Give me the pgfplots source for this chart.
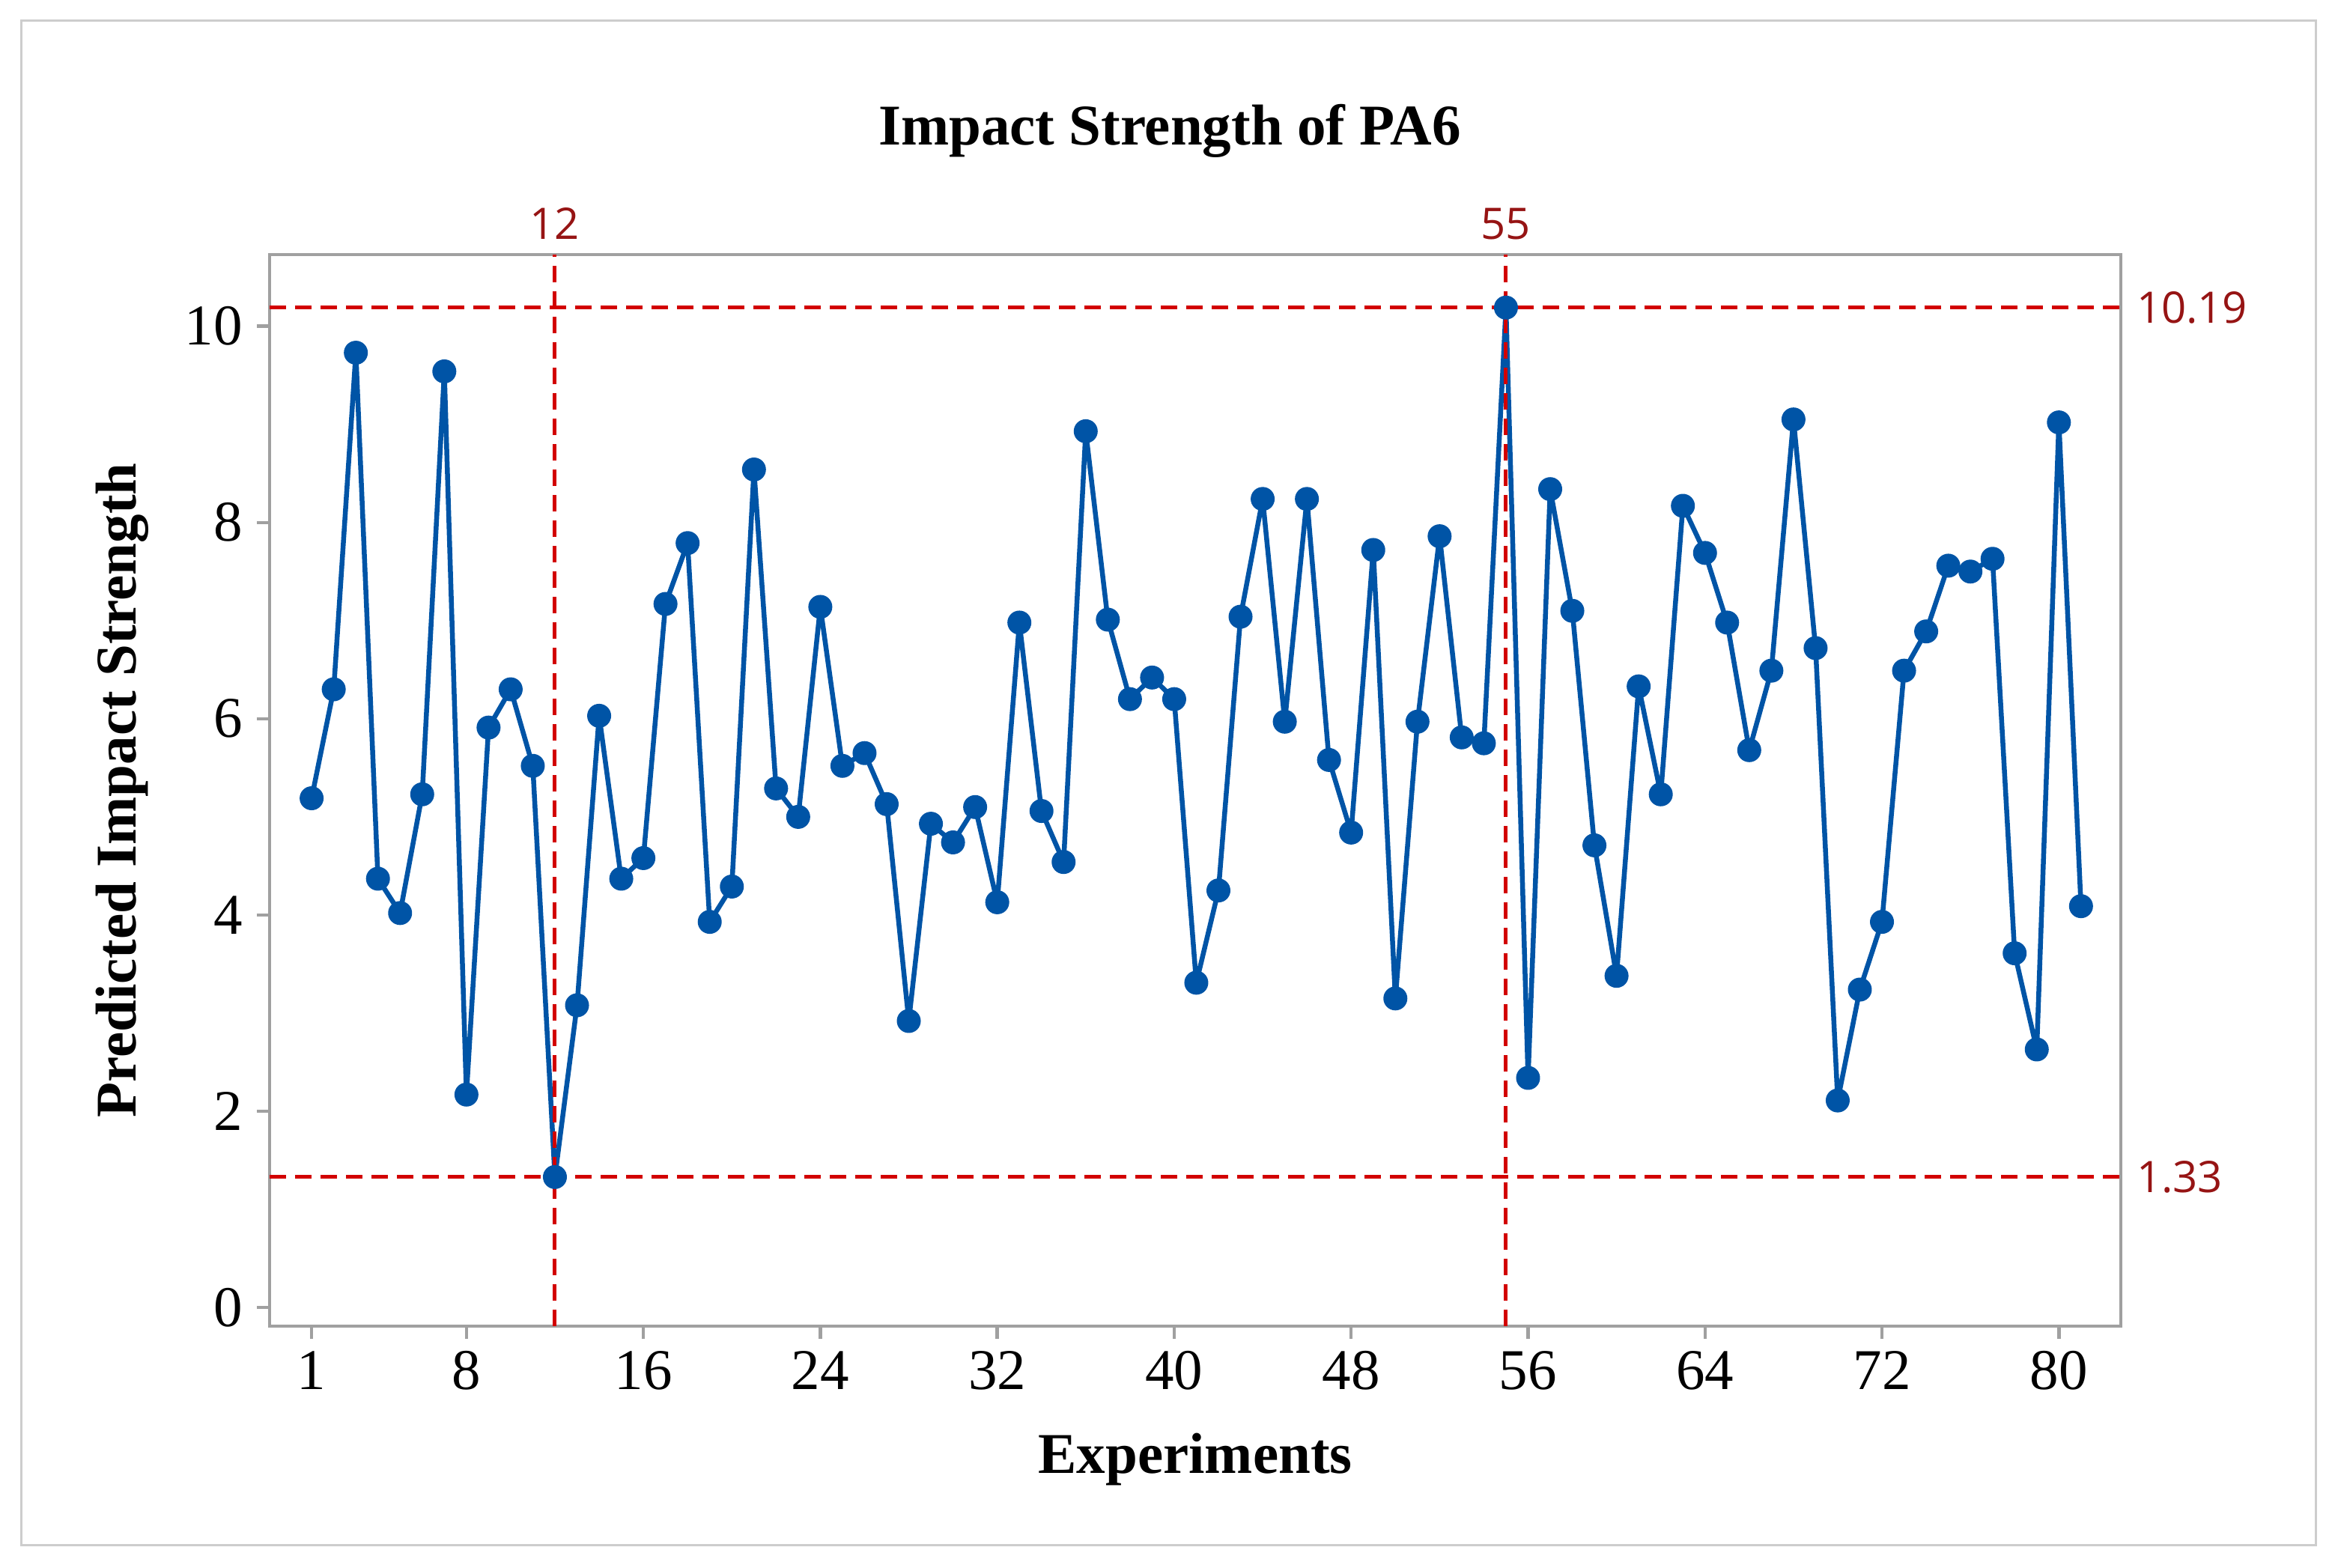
\documentclass[border=0pt]{standalone}
\usepackage{fontspec}
\setmainfont{Liberation Serif}
\newfontfamily\reffont{Open Sans}
\usepackage{pgfplots}
\pgfplotsset{compat=1.18}
\definecolor{ptblue}{RGB}{0,84,166}
\definecolor{refred}{RGB}{210,0,0}
\definecolor{lblred}{RGB}{150,20,20}
\definecolor{axgray}{RGB}{160,160,160}
\definecolor{framegray}{RGB}{205,205,205}
\pgfplotstableread{
x y
1 5.19
2 6.30
3 9.73
4 4.37
5 4.02
6 5.23
7 9.54
8 2.17
9 5.91
10 6.30
11 5.52
12 1.33
13 3.08
14 6.03
15 4.37
16 4.58
17 7.17
18 7.79
19 3.93
20 4.29
21 8.54
22 5.29
23 5.00
24 7.14
25 5.52
26 5.65
27 5.13
28 2.92
29 4.93
30 4.74
31 5.10
32 4.13
33 6.98
34 5.06
35 4.54
36 8.93
37 7.01
38 6.20
39 6.42
40 6.20
41 3.31
42 4.25
43 7.04
44 8.24
45 5.97
46 8.24
47 5.58
48 4.84
49 7.72
50 3.15
51 5.97
52 7.86
53 5.81
54 5.75
55 10.19
56 2.34
57 8.34
58 7.10
59 4.71
60 3.38
61 6.33
62 5.23
63 8.17
64 7.69
65 6.98
66 5.68
67 6.49
68 9.05
69 6.72
70 2.11
71 3.24
72 3.93
73 6.49
74 6.89
75 7.56
76 7.50
77 7.63
78 3.61
79 2.63
80 9.02
81 4.09
}\datatable
\begin{document}
\begin{tikzpicture}
\path (0,0) rectangle (312.2pt,209.3pt);
\draw[line width=0.3pt, framegray] (2.8pt,3.0pt) rectangle (309.2pt,206.5pt);
\node[anchor=base, inner sep=0pt, font=\fontsize{7.7}{8}\selectfont\bfseries] at (156.2pt,189.9pt) {Impact Strength of PA6};
\begin{axis}[
  at={(36pt,32.2pt)}, anchor=south west,
  width=247.2pt, height=143.1pt, scale only axis,
  xmin=-0.9, xmax=82.8, ymin=-0.19, ymax=10.73,
  xtick={1,8,16,24,32,40,48,56,64,72,80},
  ytick={0,2,4,6,8,10},
  tick align=outside,
  axis line style={axgray, line width=0.45pt},
  every tick/.style={axgray, line width=0.45pt},
  major tick length=1.7pt,
  xtick pos=bottom, ytick pos=left,
  tick label style={font=\fontsize{7.7}{8}\selectfont},
  xticklabel style={yshift=1.9pt},
  yticklabel style={xshift=1.6pt},
  /pgf/number format/assume math mode=true,
  xlabel={Experiments}, ylabel={Predicted Impact Strength},
  label style={font=\fontsize{7.7}{8}\selectfont\bfseries},
  xlabel style={at={(axis description cs:0.5,0)}, anchor=base, inner sep=0pt, yshift=-19.6pt},
  ylabel style={at={(axis description cs:0,0.5)}, anchor=base, inner sep=0pt, yshift=17.8pt},
  clip=false,
]
\addplot[ptblue, line width=0.65pt, line join=round, mark=*, mark size=1.5pt, mark options={fill=ptblue, draw=ptblue, solid, line width=0.2pt}] table[x=x, y=y] {\datatable};
\addplot[refred, line width=0.5pt, dash pattern=on 2.2pt off 1.2pt] coordinates {(-0.9,10.19) (82.8,10.19)};
\addplot[refred, line width=0.5pt, dash pattern=on 2.2pt off 1.2pt] coordinates {(-0.9,1.33) (82.8,1.33)};
\addplot[refred, line width=0.5pt, dash pattern=on 2.2pt off 1.2pt] coordinates {(12,-0.19) (12,10.73)};
\addplot[refred, line width=0.5pt, dash pattern=on 2.2pt off 1.2pt] coordinates {(55,-0.19) (55,10.73)};
\node[lblred, inner sep=0pt, anchor=base, yshift=2.1pt, font=\reffont\fontsize{5.8}{6}\selectfont] at (axis cs:12,10.73) {12};
\node[lblred, inner sep=0pt, anchor=base, yshift=2.1pt, font=\reffont\fontsize{5.8}{6}\selectfont] at (axis cs:55,10.73) {55};
\node[lblred, inner sep=0pt, anchor=west, xshift=1.9pt, font=\reffont\fontsize{5.8}{6}\selectfont] at (axis cs:82.8,10.19) {10.19};
\node[lblred, inner sep=0pt, anchor=west, xshift=1.9pt, font=\reffont\fontsize{5.8}{6}\selectfont] at (axis cs:82.8,1.33) {1.33};
\end{axis}
\end{tikzpicture}
\end{document}
